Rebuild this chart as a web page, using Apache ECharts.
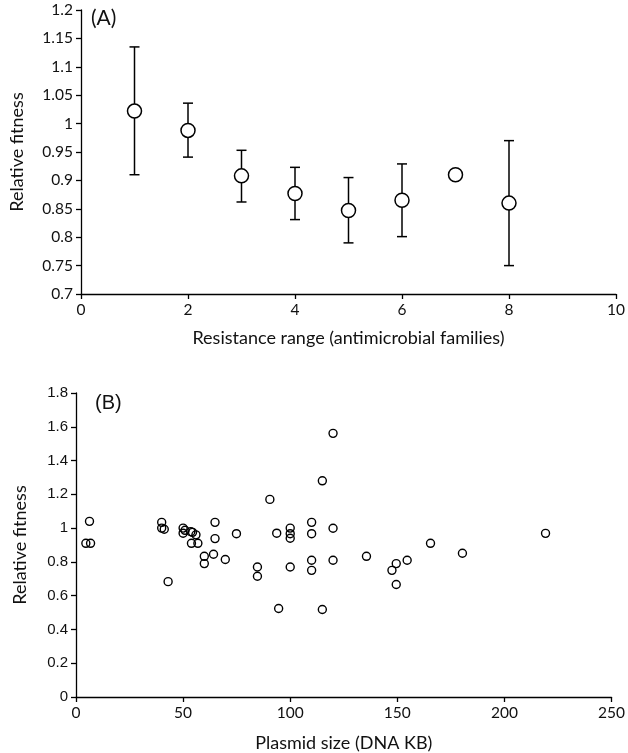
<!DOCTYPE html>
<html><head><meta charset="utf-8">
<script src="https://cdn.jsdelivr.net/npm/echarts@6/dist/echarts.min.js"></script>
<style>html,body{margin:0;padding:0;background:#fff}#c{width:628px;height:753px}</style>
</head><body><div id="c"></div>
<script>
// Panel A: resistance range vs relative fitness (mean, lower, upper)
const rangeX = [1, 2, 3, 4, 5, 6, 7, 8];
const rangeMean = [1.022, 0.988, 0.908, 0.877, 0.847, 0.865, 0.910, 0.860];
const rangeLow  = [0.910, 0.941, 0.862, 0.831, 0.790, 0.801, null, 0.750];
const rangeHigh = [1.135, 1.036, 0.953, 0.923, 0.905, 0.929, null, 0.970];

// Panel B: plasmid size (kb) vs relative fitness
const plasmidKb = [6.3, 4.6, 6.8, 40, 40, 41.2, 43, 50, 50, 50.9, 53.6, 54.4, 56, 53.9, 56.9,
  59.9, 59.9, 64.9, 64.9, 64.2, 69.7, 74.9, 84.7, 84.7, 90.5, 93.7, 94.6, 100, 100, 100, 100,
  110, 110, 110, 110, 115, 115, 120, 120, 120, 135.6, 147.5, 149.5, 154.6, 149.5, 165.5, 180.4, 219.2];
const plasmidFit = [1.04, 0.91, 0.91, 1.034, 1.0, 0.993, 0.683, 1.0, 0.97, 0.987, 0.979, 0.975, 0.96, 0.91, 0.91,
  0.833, 0.79, 1.034, 0.938, 0.845, 0.814, 0.967, 0.77, 0.715, 1.17, 0.97, 0.524, 1.0, 0.967, 0.94, 0.77,
  1.034, 0.967, 0.81, 0.75, 1.28, 0.518, 1.561, 0.999, 0.81, 0.833, 0.75, 0.79, 0.81, 0.666, 0.91, 0.851, 0.969];

const yTicksA = [0.7, 1.2, 0.05];
const xTicksA = [0, 10, 2];
const yTicksB = [0, 1.8, 0.2];
const xTicksB = [0, 250, 50];

const FONT = 'Lato';
const axisCommon = {
  axisLine: {show: true, onZero: false, lineStyle: {color: '#000', width: 1.3}},
  axisTick: {show: true, inside: false, length: 5, lineStyle: {color: '#000', width: 1.3}},
  splitLine: {show: false},
  axisLabel: {color: '#111', fontFamily: FONT, fontSize: 15.5, margin: 8},
  nameTextStyle: {color: '#111', fontFamily: FONT, fontSize: 18}
};
const fmt = v => String(+v.toFixed(2));

const chart = echarts.init(document.getElementById('c'), null, {renderer: 'canvas'});
const errData = rangeX.map((x, i) => [x, rangeLow[i], rangeHigh[i]]).filter(d => d[1] != null);

chart.setOption({
  backgroundColor: '#fff',
  animation: false,
  title: [
    {text: '(A)', left: 86, top: 3, textStyle: {fontFamily: FONT, fontSize: 21, fontWeight: 'normal', color: '#111'}},
    {text: '(B)', left: 90, top: 388, textStyle: {fontFamily: 'Liberation Sans', fontSize: 20, fontWeight: 'normal', color: '#111'}}
  ],
  grid: [
    {left: 75, right: 12, top: 10, height: 284},
    {left: 76, right: 12, top: 393, height: 304}
  ],
  xAxis: [
    Object.assign({}, axisCommon, {type: 'value', gridIndex: 0, min: xTicksA[0], max: xTicksA[1], interval: xTicksA[2],
      name: 'Resistance range (antimicrobial families)', nameLocation: 'middle', nameGap: 35}),
    Object.assign({}, axisCommon, {type: 'value', gridIndex: 1, min: xTicksB[0], max: xTicksB[1], interval: xTicksB[2],
      name: 'Plasmid size (DNA KB)', nameLocation: 'middle', nameGap: 37})
  ],
  yAxis: [
    Object.assign({}, axisCommon, {type: 'value', gridIndex: 0, min: yTicksA[0], max: yTicksA[1], interval: yTicksA[2],
      name: 'Relative fitness', nameLocation: 'middle', nameGap: 55,
      axisLabel: Object.assign({}, axisCommon.axisLabel, {formatter: fmt})}),
    Object.assign({}, axisCommon, {type: 'value', gridIndex: 1, min: yTicksB[0], max: yTicksB[1], interval: yTicksB[2],
      name: 'Relative fitness', nameLocation: 'middle', nameGap: 47,
      axisLabel: Object.assign({}, axisCommon.axisLabel, {formatter: fmt, fontFamily: 'Liberation Sans', fontSize: 15})})
  ],
  series: [
    {
      type: 'custom', xAxisIndex: 0, yAxisIndex: 0, z: 2,
      data: errData,
      renderItem: function (params, api) {
        const lo = api.coord([api.value(0), api.value(1)]);
        const hi = api.coord([api.value(0), api.value(2)]);
        const w = 5;
        const st = {stroke: '#000', lineWidth: 1.5};
        return {type: 'group', children: [
          {type: 'line', shape: {x1: lo[0], y1: lo[1], x2: hi[0], y2: hi[1]}, style: st},
          {type: 'line', shape: {x1: lo[0] - w, y1: lo[1], x2: lo[0] + w, y2: lo[1]}, style: st},
          {type: 'line', shape: {x1: hi[0] - w, y1: hi[1], x2: hi[0] + w, y2: hi[1]}, style: st}
        ]};
      }
    },
    {
      type: 'scatter', xAxisIndex: 0, yAxisIndex: 0, z: 3,
      symbol: 'circle', symbolSize: 14,
      itemStyle: {color: '#fff', opacity: 1, borderColor: '#000', borderWidth: 1.5},
      data: rangeX.map((x, i) => [x, rangeMean[i]])
    },
    {
      type: 'scatter', xAxisIndex: 1, yAxisIndex: 1,
      symbol: 'circle', symbolSize: 8,
      itemStyle: {color: 'rgba(255,255,255,0)', opacity: 1, borderColor: '#000', borderWidth: 1.4},
      data: plasmidKb.map((x, i) => [x, plasmidFit[i]])
    }
  ]
});
</script></body></html>
